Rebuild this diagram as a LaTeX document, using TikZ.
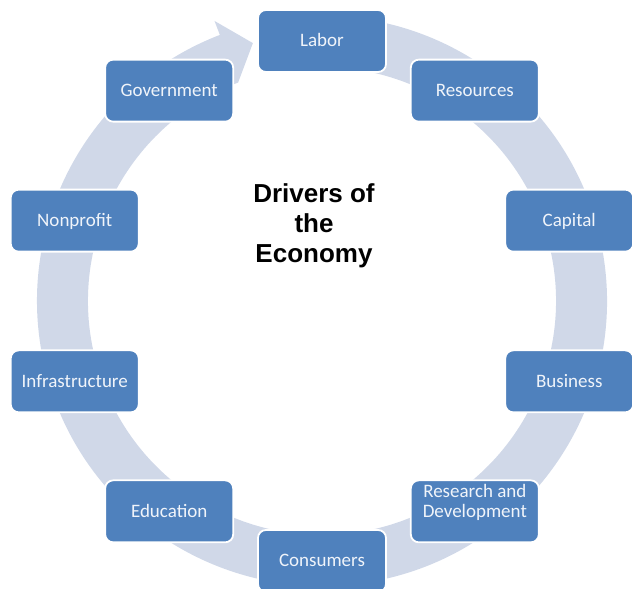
\documentclass[tikz,border=0pt]{standalone}
\usepackage{fontspec}
\newfontfamily\boxfont{Carlito}
\newfontfamily\titlefont{Liberation Sans}
\definecolor{boxblue}{RGB}{79,129,189}
\definecolor{ringgray}{RGB}{208,216,232}
\definecolor{boxtext}{RGB}{240,244,250}
\begin{document}
\begin{tikzpicture}[x=1pt,y=1pt,
  driver/.style={draw=white, line width=1.8pt, fill=boxblue, rounded corners=8pt,
    minimum width=128pt, minimum height=62pt, inner sep=0pt,
    text=boxtext, font=\boxfont\fontsize{19}{20}\selectfont,
    text height=13pt, text depth=1.5pt, align=center},
  ring/.style={fill=ringgray}]
\useasboundingbox (0,0) rectangle (632,589);
\clip (0,0) rectangle (632,589);
\begin{scope}[shift={(322,288)}]
  % circular band running clockwise, ending in an arrowhead just left of the top
  \fill[ring] (100:285) arc[start angle=100, end angle=-249, radius=285]
    -- (-249:300) -- (-255:267) -- (-249:234)
    arc[start angle=-249, end angle=100, radius=234] -- cycle;
  % the ten drivers placed around the ring
  \node[driver] (labor)          at (90:260)   {Labor};
  \node[driver] (resources)      at (54:260)   {Resources};
  \node[driver] (capital)        at (18:260)   {Capital};
  \node[driver] (business)       at (-18:260)  {Business};
  \node[driver] (rd)             at (-54:260)  {Research and\\Development};
  \node[driver] (consumers)      at (-90:260)  {Consumers};
  \node[driver] (education)      at (-126:260) {Education};
  \node[driver] (infrastructure) at (-162:260) {Infrastructure};
  \node[driver] (nonprofit)      at (162:260)  {Nonprofit};
  \node[driver] (government)     at (126:260)  {Government};
\end{scope}
\node[inner sep=0pt, align=center,
  font=\titlefont\bfseries\fontsize{26}{30}\selectfont] (title) at (314,363)
  {Drivers of\\the\\Economy};
\end{tikzpicture}
\end{document}
